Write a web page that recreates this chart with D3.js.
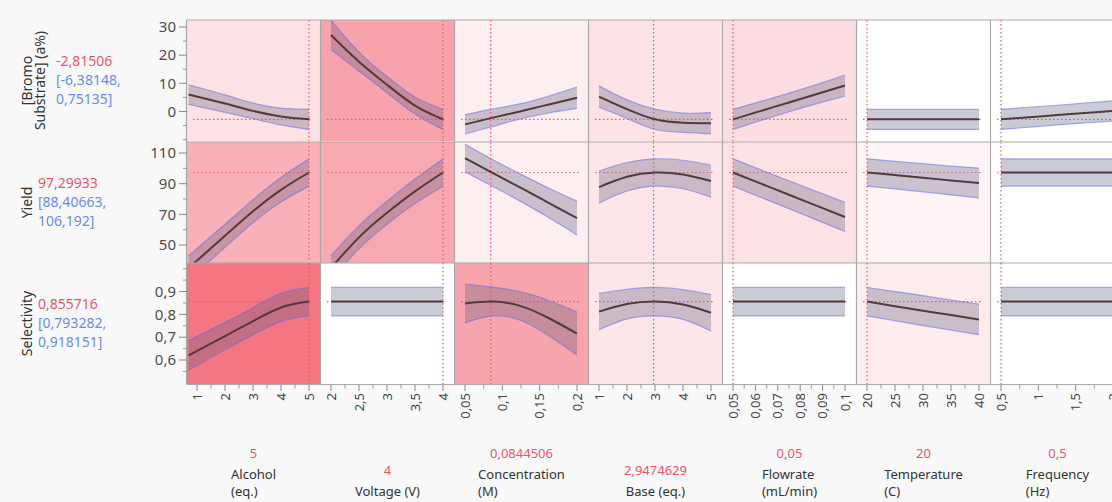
<!DOCTYPE html>
<html lang="en">
<head>
<meta charset="UTF-8">
<title>Prediction Profiler</title>
<script src="https://cdn.jsdelivr.net/npm/d3@7"></script>
<style>
  body { margin: 0; background: #f8f8f8; font-family: "Noto Sans", "Open Sans", sans-serif; }
</style>
</head>
<body>
<svg id="profiler" width="1112" height="502"></svg>
<script>
// factors (columns)
var factorLines = [["Alcohol", "(eq.)"], ["Voltage (V)"], ["Concentration", "(M)"], ["Base (eq.)"],
                   ["Flowrate", "(mL/min)"], ["Temperature", "(C)"], ["Frequency", "(Hz)"]];
var factorCurrentText = ["5", "4", "0,0844506", "2,9474629", "0,05", "20", "0,5"];
var factorCurrent = [5, 4, 0.0844506, 2.9474629, 0.05, 20, 0.5];
var factorRange = [[1, 5], [2, 4], [0.05, 0.2], [1, 5], [0.05, 0.1], [20, 40], [0.5, 2]];
var factorTicks = [[1, 2, 3, 4, 5], [2, 2.5, 3, 3.5, 4], [0.05, 0.1, 0.15, 0.2], [1, 2, 3, 4, 5],
                   [0.05, 0.06, 0.07, 0.08, 0.09, 0.1], [20, 25, 30, 35, 40], [0.5, 1, 1.5, 2]];
// x positions where the curves were read
var factorSamples = [[0.7, 2, 3, 4, 5], [2, 2.5, 3, 3.5, 4], [0.05, 0.0875, 0.125, 0.1625, 0.2],
                     [1, 2, 3, 4, 5], [0.05, 0.0625, 0.075, 0.0875, 0.1], [20, 25, 30, 35, 40],
                     [0.5, 0.875, 1.25, 1.625, 2]];

// responses (rows)
var responseLines = [["[Bromo", "Substrate] (a%)"], ["Yield"], ["Selectivity"]];
var responseValueText = ["-2,81506", "97,29933", "0,855716"];
var responseCIText = [["[-6,38148,", "0,75135]"], ["[88,40663,", "106,192]"], ["[0,793282,", "0,918151]"]];
var responseCurrent = [-2.81506, 97.29933, 0.855716];
var responseDomain = [[-10.5, 32.5], [38.26, 117.2], [0.495, 1.025]];
var responseTicks = [[0, 10, 20, 30], [50, 70, 90, 110], [0.6, 0.7, 0.8, 0.9]];
var responseMinor = [[-10, -5, 5, 15, 25], [60, 80, 100], [0.55, 0.65, 0.75, 0.85, 0.95, 1]];

// [Bromo Substrate] curves, one row per factor
var bromoMean = [[6.0, 2.8, 0.2, -1.8, -2.8], [27.2, 17.7, 9.5, 2.1, -2.8], [-4.6, -2.2, 0.1, 2.5, 4.9],
                 [5.3, 0.8, -2.8, -4.0, -4.2], [-2.8, 0.2, 3.2, 6.2, 9.2], [-2.8, -2.8, -2.8, -2.8, -2.8],
                 [-2.8, -2.05, -1.3, -0.55, 0.2]];
var bromoLo = [[2.5, -0.3, -2.6, -4.8, -6.4], [22.0, 14.3, 6.6, -0.9, -6.4], [-8.0, -5.3, -2.6, -0.5, 1.1],
               [1.5, -2.5, -6.4, -7.4, -8.0], [-6.4, -3.2, -0.1, 2.8, 5.5], [-6.4, -6.4, -6.4, -6.4, -6.4],
               [-6.4, -5.6, -4.8, -4.1, -3.4]];
var bromoHi = [[9.5, 5.9, 3.0, 1.2, 0.75], [32.4, 21.1, 12.4, 5.1, 0.75], [-1.2, 0.9, 2.8, 5.5, 8.7],
               [9.1, 4.1, 0.8, -0.6, -0.4], [0.75, 3.6, 6.5, 9.6, 12.9], [0.75, 0.75, 0.75, 0.75, 0.75],
               [0.75, 1.5, 2.2, 3.0, 3.8]];

// Yield curves
var yieldMean = [[35, 56, 72, 86, 97.3], [35, 55, 71, 85, 97.3], [106.7, 96.9, 87.2, 77.4, 67.6],
                 [87.8, 94.5, 97.3, 96.0, 91.7], [97.3, 90.0, 82.8, 75.5, 68.3], [97.3, 95.6, 93.9, 92.1, 90.4],
                 [97.3, 97.3, 97.3, 97.3, 97.3]];
var yieldLo = [[27, 48.5, 64.5, 78, 88.4], [27, 47.5, 63.5, 77, 88.4], [97.7, 88.2, 78.3, 67.8, 56.6],
               [77.3, 85.2, 88.4, 86.7, 81.2], [88.4, 81.0, 73.7, 66.2, 58.8], [88.4, 86.6, 84.7, 82.7, 80.7],
               [88.4, 88.4, 88.4, 88.4, 88.4]];
var yieldHi = [[43, 63.5, 79.5, 94, 106.2], [43, 62.5, 78.5, 93, 106.2], [115.7, 105.6, 96.1, 87.0, 78.6],
               [98.3, 103.8, 106.2, 105.3, 102.2], [106.2, 99.0, 91.9, 84.8, 77.8], [106.2, 104.6, 103.1, 101.5, 100.1],
               [106.2, 106.2, 106.2, 106.2, 106.2]];

// Selectivity curves
var selMean = [[0.62, 0.705, 0.77, 0.83, 0.856], [0.856, 0.856, 0.856, 0.856, 0.856], [0.848, 0.856, 0.836, 0.783, 0.716],
               [0.812, 0.845, 0.856, 0.843, 0.807], [0.856, 0.856, 0.856, 0.856, 0.856], [0.856, 0.836, 0.816, 0.797, 0.777],
               [0.856, 0.856, 0.856, 0.856, 0.856]];
var selLo = [[0.555, 0.645, 0.71, 0.768, 0.793], [0.793, 0.793, 0.793, 0.793, 0.793], [0.763, 0.793, 0.773, 0.705, 0.622],
             [0.732, 0.78, 0.793, 0.778, 0.727], [0.793, 0.793, 0.793, 0.793, 0.793], [0.793, 0.772, 0.751, 0.731, 0.711],
             [0.793, 0.793, 0.793, 0.793, 0.793]];
var selHi = [[0.685, 0.765, 0.83, 0.892, 0.918], [0.918, 0.918, 0.918, 0.918, 0.918], [0.933, 0.919, 0.899, 0.861, 0.81],
             [0.892, 0.91, 0.918, 0.908, 0.887], [0.918, 0.918, 0.918, 0.918, 0.918], [0.918, 0.9, 0.882, 0.863, 0.845],
             [0.918, 0.918, 0.918, 0.918, 0.918]];

// panel shading (importance)
var bgBromo = ["#fde2e5", "#f8a3ab", "#fdeef0", "#fde3e6", "#fcdde1", "#ffffff", "#ffffff"];
var bgYield = ["#f9b0b8", "#f8a8b0", "#fdeef0", "#fde5e8", "#fde2e5", "#fef4f5", "#ffffff"];
var bgSel = ["#f47683", "#ffffff", "#f8a4ac", "#fde6e9", "#ffffff", "#fdecee", "#ffffff"];

var means = [bromoMean, yieldMean, selMean];
var los = [bromoLo, yieldLo, selLo];
var his = [bromoHi, yieldHi, selHi];
var bgs = [bgBromo, bgYield, bgSel];

var svg = d3.select("#profiler");
var colLeft = 187, colStep = 134, panelW = 133;
var rowTop = [20, 142, 263], panelH = 121;
var red = "#e6566a", blue = "#6b8be4";

function fmt(v) { return d3.format("~g")(v).replace(".", ","); }

var xScales = factorRange.map((r, i) => {
    var L = colLeft + colStep * i;
    return d3.scaleLinear().domain(r).range([L + 10, L + 122]);
});
var yScales = responseDomain.map((d, r) => d3.scaleLinear().domain(d).range([rowTop[r] + panelH, rowTop[r]]));

var defs = svg.append("defs");

for (var r = 0; r < 3; r++) {
    for (var c = 0; c < 7; c++) {
        var L = colLeft + colStep * c, T = rowTop[r];
        var x = xScales[c], y = yScales[r];
        var id = "clip" + r + "_" + c;
        defs.append("clipPath").attr("id", id)
            .append("rect").attr("x", L).attr("y", T).attr("width", panelW).attr("height", panelH);

        var g = svg.append("g").attr("clip-path", "url(#" + id + ")");
        g.append("rect").attr("x", L).attr("y", T).attr("width", panelW).attr("height", panelH)
            .attr("fill", bgs[r][c]);

        var pts = factorSamples[c].map((s, k) => ({x: s, m: means[r][c][k], lo: los[r][c][k], hi: his[r][c][k]}));

        var area = d3.area().curve(d3.curveNatural)
            .x(d => x(d.x)).y0(d => y(d.lo)).y1(d => y(d.hi));
        g.append("path").attr("d", area(pts)).attr("fill", "rgba(92,92,128,0.32)");

        ["lo", "hi"].forEach(k => {
            var edge = d3.line().curve(d3.curveNatural).x(d => x(d.x)).y(d => y(d[k]));
            g.append("path").attr("d", edge(pts)).attr("fill", "none")
                .attr("stroke", "rgba(100,110,235,0.55)").attr("stroke-width", 1.2);
        });

        // current settings
        g.append("line").attr("x1", L + 6).attr("x2", L + 124)
            .attr("y1", y(responseCurrent[r])).attr("y2", y(responseCurrent[r]))
            .attr("stroke", red).attr("stroke-width", 1.2).attr("stroke-dasharray", "1.5,2.5");
        g.append("line").attr("x1", x(factorCurrent[c])).attr("x2", x(factorCurrent[c]))
            .attr("y1", T).attr("y2", T + panelH)
            .attr("stroke", red).attr("stroke-width", 1.2).attr("stroke-dasharray", "1.5,2.5");

        var mean = d3.line().curve(d3.curveNatural).x(d => x(d.x)).y(d => y(d.m));
        g.append("path").attr("d", mean(pts)).attr("fill", "none")
            .attr("stroke", "#523a3c").attr("stroke-width", 2);
    }
}

// grid borders
var border = svg.append("g").attr("stroke", "#a9a9a9").attr("stroke-width", 1.2);
[20, 142, 263, 384.5].forEach(v => {
    border.append("line").attr("x1", colLeft).attr("x2", 1112).attr("y1", v).attr("y2", v);
});
for (var c = 0; c <= 7; c++) {
    var xv = colLeft + colStep * c - 0.5;
    border.append("line").attr("x1", xv).attr("x2", xv).attr("y1", 20).attr("y2", 384.5);
}

// y axes
responseTicks.forEach((ticks, r) => {
    var y = yScales[r];
    var ax = svg.append("g");
    ticks.forEach(t => {
        ax.append("line").attr("x1", 179).attr("x2", 187).attr("y1", y(t)).attr("y2", y(t))
            .attr("stroke", "#888");
        ax.append("text").attr("x", 176).attr("y", y(t)).attr("dy", "0.35em")
            .attr("text-anchor", "end").attr("font-size", 15).attr("fill", "#4d4d4d").text(fmt(t));
    });
    responseMinor[r].forEach(t => {
        if (y(t) > rowTop[r] + 1 && y(t) < rowTop[r] + panelH - 1)
            ax.append("line").attr("x1", 183).attr("x2", 187).attr("y1", y(t)).attr("y2", y(t))
                .attr("stroke", "#999");
    });
});

// x axes
factorTicks.forEach((ticks, c) => {
    var x = xScales[c];
    var ax = svg.append("g");
    ticks.forEach((t, k) => {
        ax.append("line").attr("x1", x(t)).attr("x2", x(t)).attr("y1", 385).attr("y2", 391)
            .attr("stroke", "#888");
        ax.append("text").attr("transform", "translate(" + x(t) + ",393) rotate(-90)")
            .attr("dy", "0.35em").attr("text-anchor", "end").attr("font-size", 13)
            .attr("fill", "#444").text(fmt(t));
        if (k > 0) {
            var mid = x((t + ticks[k - 1]) / 2);
            ax.append("line").attr("x1", mid).attr("x2", mid).attr("y1", 385).attr("y2", 388.5)
                .attr("stroke", "#999");
        }
    });
});

// factor labels
factorLines.forEach((lines, c) => {
    var cx = colLeft + colStep * c + panelW / 2;
    var g = svg.append("g").attr("font-size", 13);
    var last = 496;
    var first = last - 17 * (lines.length - 1);
    var texts = lines.map((s, k) => g.append("text").attr("y", first + 17 * k).attr("fill", "#333").text(s));
    var w = d3.max(texts, t => t.node().getComputedTextLength());
    texts.forEach(t => t.attr("x", cx - w / 2));
    g.append("text").attr("x", cx).attr("y", first - 21).attr("text-anchor", "middle")
        .attr("fill", red).text(factorCurrentText[c]);
});

// response labels
responseLines.forEach((lines, r) => {
    var cy = rowTop[r] + panelH / 2;
    var g = svg.append("g").attr("font-size", 14);
    var base = 32;
    lines.forEach((s, k) => {
        g.append("text").attr("transform", "translate(" + (base + 13 * k) + "," + cy + ") rotate(-90)")
            .attr("text-anchor", "middle").attr("fill", "#333").text(s);
    });
    var vx = lines.length > 1 ? 56 : 38;
    g.append("text").attr("x", vx).attr("y", cy - 14.5).attr("fill", red).text(responseValueText[r]);
    responseCIText[r].forEach((s, k) => {
        g.append("text").attr("x", vx).attr("y", cy + 4.5 + 19 * k).attr("fill", blue).text(s);
    });
});
</script>
</body>
</html>
